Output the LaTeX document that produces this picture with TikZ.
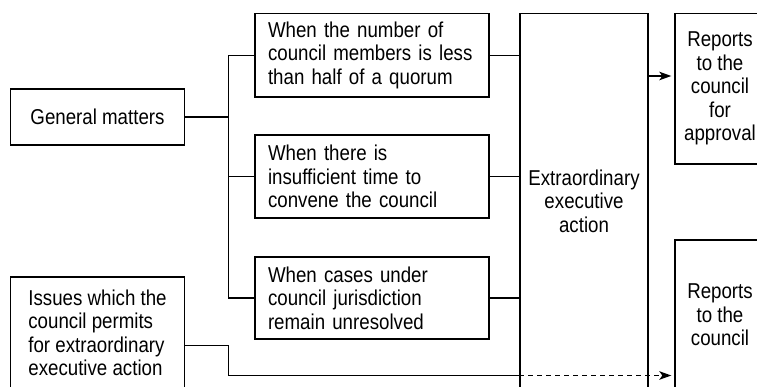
\documentclass[tikz,border=0pt]{standalone}
\usepackage{fontspec}
\setmainfont{Liberation Sans}[FakeStretch=0.87]
\usetikzlibrary{arrows.meta}

\begin{document}
\begin{tikzpicture}[x=1pt, y=-1pt, line width=1.4pt,
		box/.style = {draw, inner sep=0pt, font=\fontsize{21.5}{23.5}\selectfont},
		cond/.style = {box, align=left, text width=208pt, minimum width=234pt},
		arr/.style = {-{Stealth[length=12pt,width=8.5pt,inset=3pt]}, shorten >=3pt}]
		\useasboundingbox (0,0) rectangle (757,387);
		% left column
		\node[box, minimum width=174pt, minimum height=56pt] (gen) at (97.5,117) {General matters};
		\node[box, align=left, minimum width=174pt, minimum height=112pt] (issues) at (97.5,333)
			{Issues which the\\council permits\\for extraordinary\\executive action};
		% conditions
		\node[cond, minimum height=83.5pt] (c1) at (372,55.25)
			{When the number of\\council members is less\\than half of a quorum};
		\node[cond, minimum height=83pt] (c2) at (372,176.5)
			{When there is\\insufficient time to\\convene the council};
		\node[cond, minimum height=82pt] (c3) at (372,298)
			{When cases under\\council jurisdiction\\remain unresolved};
		% action and reports
		\node[box, align=center, minimum width=128pt, minimum height=375pt] (extra) at (584,201)
			{Extraordinary\\executive\\action};
		\node[box, align=center, minimum width=90pt, minimum height=150.5pt] (rep1) at (720,88.75)
			{Reports\\to the\\council\\for\\approval};
		\node[box, align=center, minimum width=90pt, minimum height=150pt] (rep2) at (720,315)
			{Reports\\to the\\council};
		% connectors
		\draw (gen.east) -- ++(43.5,0) coordinate (bus);
		\draw (c1.west) -| (bus) |- (c3.west);
		\draw (c2.west) -- (c2.west -| bus);
		\foreach \n in {c1,c2,c3}
			\draw (\n.east) -- (\n.east -| extra.west);
		\coordinate (rowA) at (0,76);
		\coordinate (rowB) at (0,345.5);
		\coordinate (rowC) at (0,375.5);
		\draw[arr] (extra.east |- rowA) -- (rep1.west |- rowA);
		\draw (issues.east |- rowB) -| (bus |- rowC) -- (extra.west |- rowC);
		\draw[arr, dash pattern=on 5pt off 4pt] (extra.west |- rowC) -- (rep2.west |- rowC);
	\end{tikzpicture}
\end{document}
